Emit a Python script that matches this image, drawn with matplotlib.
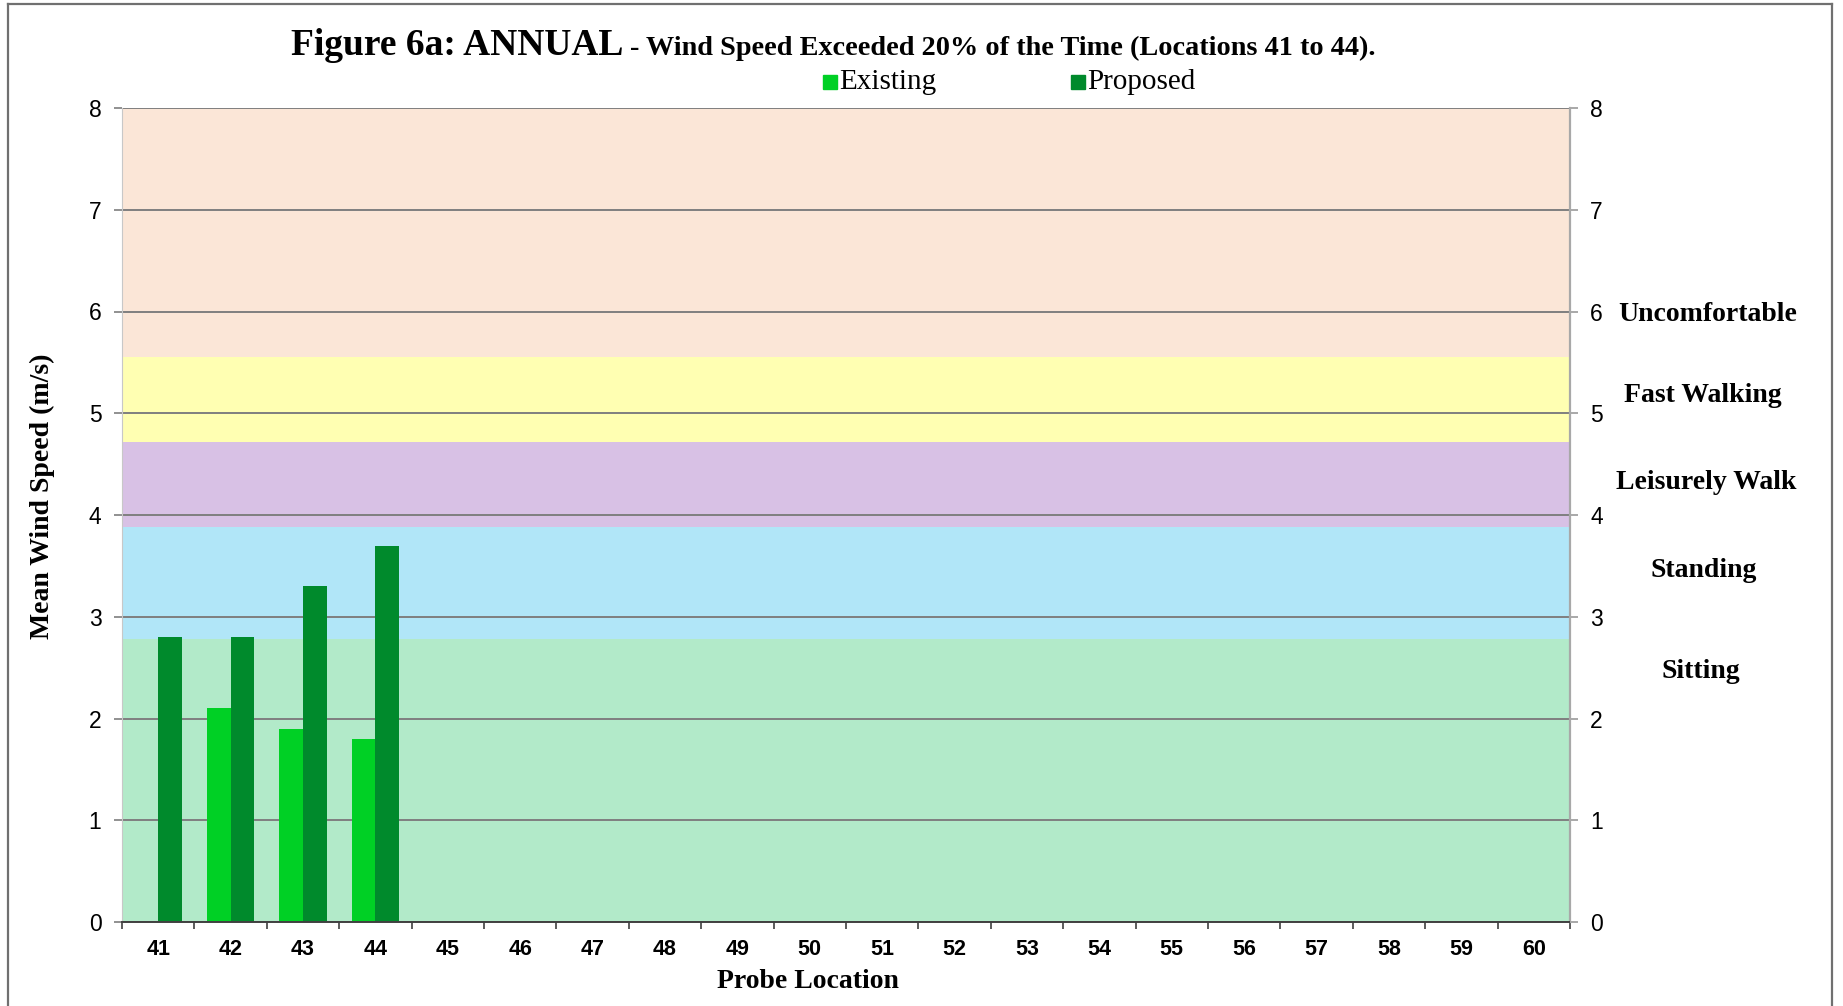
import numpy as np
import matplotlib.pyplot as plt
from matplotlib.lines import Line2D
from matplotlib.patches import Rectangle
from matplotlib.transforms import blended_transform_factory

# probe locations and annual wind speeds (m/s)
locations = [str(n) for n in range(41, 61)]
existing = [0.0, 2.1, 1.9, 1.8]
proposed = [2.8, 2.8, 3.3, 3.7]

# comfort bands: lower edge, upper edge, colour, label
band_edges = [0, 2.78, 3.88, 4.72, 5.55, 8]
band_colors = ["#b2eac9", "#b1e6f8", "#d8c1e5", "#ffffb2", "#fbe6d7"]
band_names = ["Sitting", "Standing", "Leisurely Walk", "Fast Walking", "Uncomfortable"]
band_label_y = [2.46, 3.45, 4.32, 5.17, 5.97]
band_label_x = [1.090, 1.092, 1.094, 1.092, 1.095]

existing_color = "#00d025"
proposed_color = "#008a2c"

serif = ["Liberation Serif", "DejaVu Serif"]
sans = ["Liberation Sans", "DejaVu Sans"]

W, H = 1843, 1006
fig = plt.figure(figsize=(W / 100, H / 100), dpi=100)
left, right, top, bottom = 122, 1570, 108, 922
ax = fig.add_axes([left / W, 1 - bottom / H, (right - left) / W, (bottom - top) / H])

for lo, hi, c in zip(band_edges[:-1], band_edges[1:], band_colors):
    ax.axhspan(lo, hi, color=c, zorder=0.1, lw=0)

x = np.arange(len(locations))
n = len(existing)
bw = 0.33
ax.bar(x[:n] - bw / 2, existing, width=bw, color=existing_color, zorder=2)
ax.bar(x[:n] + bw / 2, proposed, width=bw, color=proposed_color, zorder=2)

ax.set_xlim(-0.5, len(locations) - 0.5)
ax.set_ylim(0, 8)
ax.set_yticks(range(0, 9))
ax.yaxis.grid(True, color="#7f7f7f", lw=1.4)
ax.set_axisbelow(True)

ax.set_xticks(x)
ax.set_xticklabels(locations, family=sans, fontweight="bold", fontsize=15.5)
ax.set_xticks(np.arange(-0.5, len(locations), 1), minor=True)
ax.tick_params(axis="x", which="major", length=0, pad=12.5)
ax.tick_params(axis="x", which="minor", length=5, color="#404040", width=1.2)
ax.tick_params(axis="y", length=5.8, color="#909090", width=1.4, labelsize=16.5, pad=9)
for lab in ax.get_yticklabels():
    lab.set_family(sans)

ax.spines["top"].set_visible(False)
ax.spines["bottom"].set_color("#404040")
ax.spines["bottom"].set_linewidth(1.4)
ax.spines["left"].set_color("#c8c8c8")
ax.spines["right"].set_color("#a8a8a8")
ax.spines["right"].set_linewidth(1.6)

ax2 = ax.twinx()
ax2.set_ylim(0, 8)
ax2.set_yticks(range(0, 9))
ax2.tick_params(axis="y", length=5.5, color="#a8a8a8", width=1.4, labelsize=16.5, pad=9)
for lab in ax2.get_yticklabels():
    lab.set_family(sans)
for side in ["top", "left", "bottom", "right"]:
    ax2.spines[side].set_visible(False)

# axis titles
fig.text(808 / W, 1 - 981 / H, "Probe Location", family=serif, fontweight="bold",
         fontsize=20, ha="center", va="center")
fig.text(42 / W, 1 - 496 / H, "Mean Wind Speed (m/s)", family=serif, fontweight="bold",
         fontsize=20, ha="center", va="center", rotation=90)

# comfort band names beside the right axis
tr = blended_transform_factory(ax.transAxes, ax.transData)
for name, xv, yv in zip(band_names, band_label_x, band_label_y):
    ax.text(xv, yv, name, transform=tr, ha="center", va="center",
            family=serif, fontweight="bold", fontsize=20)

# title in two sizes
fig.text(291 / W, 1 - 55 / H, "Figure 6a: ANNUAL", family=serif, fontweight="bold",
         fontsize=27, ha="left", va="baseline")
fig.text(630 / W, 1 - 55 / H, "- Wind Speed Exceeded 20% of the Time (Locations 41 to 44).",
         family=serif, fontweight="bold", fontsize=20.3, ha="left", va="baseline")

# legend entries
for x0, col, lab in [(823, existing_color, "Existing"), (1071, proposed_color, "Proposed")]:
    fig.add_artist(Rectangle((x0 / W, 1 - 89 / H), 14 / W, 14 / H, color=col,
                             transform=fig.transFigure))
    fig.text((x0 + 16) / W, 1 - 82 / H, lab, family=serif, fontsize=21,
             ha="left", va="center")

# outer chart frame
for xs, ys in [([8, 8], [4, H]), ([8, 1832], [4, 4]), ([1832, 1832], [4, H])]:
    fig.add_artist(Line2D([v / W for v in xs], [1 - v / H for v in ys], color="#707070", lw=1.6))

fig.savefig("out.png", dpi=100)
